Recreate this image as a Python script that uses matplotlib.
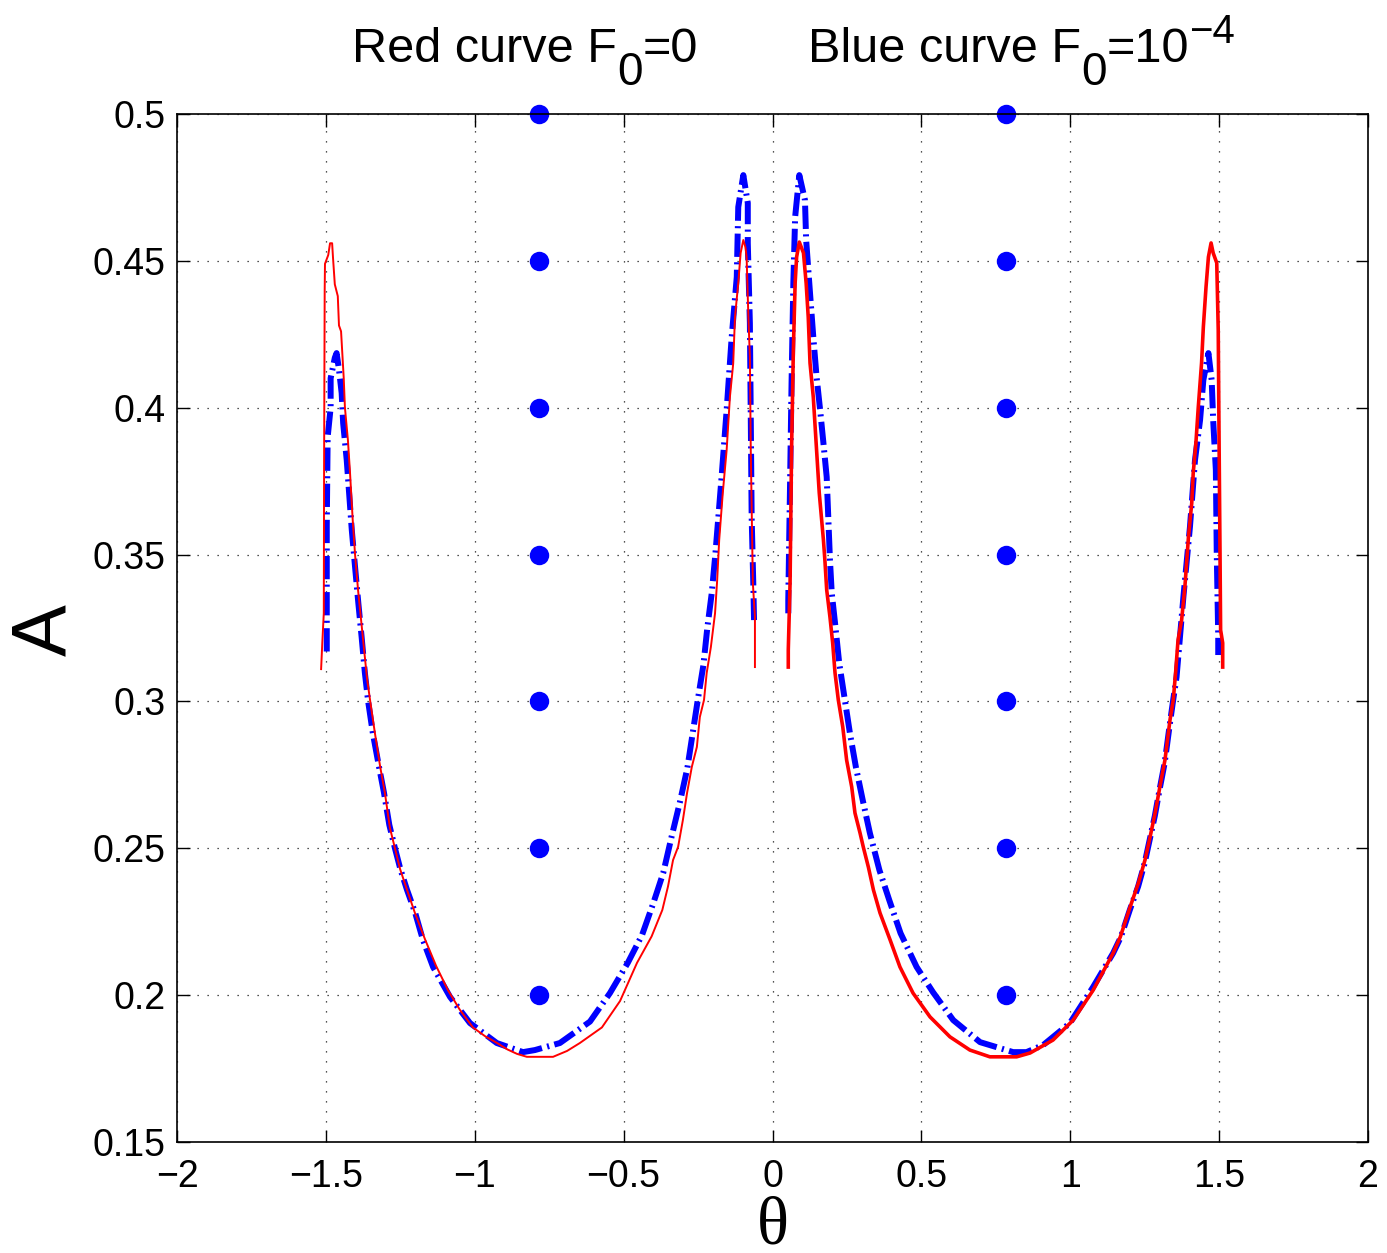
import matplotlib
matplotlib.use('Agg')
import matplotlib.pyplot as plt

# contour of A(theta), left half (theta < 0) and right half (theta > 0)
red_left_theta = [
    -1.516, -1.512, -1.507, -1.506, -1.504, -1.503, -1.492, -1.486, -1.479, -1.476,
    -1.470, -1.460, -1.456, -1.449, -1.440, -1.436, -1.426, -1.419, -1.410, -1.402,
    -1.392, -1.382, -1.372, -1.362, -1.351, -1.335, -1.318, -1.302, -1.285, -1.268,
    -1.251, -1.228, -1.201, -1.167, -1.130, -1.090, -1.050, -1.006, -0.965, -0.925,
    -0.890, -0.858, -0.825, -0.780, -0.737, -0.690, -0.647, -0.573, -0.512, -0.455,
    -0.406, -0.370, -0.351, -0.334, -0.317, -0.301, -0.287, -0.271, -0.254, -0.244,
    -0.230, -0.221, -0.207, -0.193, -0.186, -0.179, -0.167, -0.154, -0.143, -0.132,
    -0.126, -0.115, -0.107, -0.098, -0.091, -0.087, -0.081, -0.076, -0.073, -0.066,
    -0.059, -0.059]
red_left_A = [
    0.311, 0.320, 0.330, 0.380, 0.440, 0.449, 0.452, 0.456, 0.456, 0.451,
    0.442, 0.438, 0.428, 0.426, 0.410, 0.400, 0.389, 0.378, 0.362, 0.350,
    0.338, 0.328, 0.318, 0.308, 0.300, 0.289, 0.278, 0.269, 0.257, 0.250,
    0.243, 0.236, 0.228, 0.219, 0.210, 0.2017, 0.195, 0.189, 0.186, 0.1837,
    0.1815, 0.180, 0.179, 0.179, 0.179, 0.181, 0.1837, 0.189, 0.198, 0.211,
    0.220, 0.229, 0.237, 0.246, 0.2505, 0.2596, 0.2688, 0.2777, 0.2845, 0.2947,
    0.3005, 0.3097, 0.3185, 0.330, 0.341, 0.355, 0.371, 0.3856, 0.4037, 0.415,
    0.4309, 0.4424, 0.4527, 0.4571, 0.4547, 0.4513, 0.4309, 0.4173, 0.3856, 0.3403,
    0.3287, 0.3117]

red_right_theta = [
    0.053, 0.053, 0.059, 0.064, 0.070, 0.076, 0.081, 0.090, 0.104, 0.113,
    0.120, 0.126, 0.137, 0.148, 0.157, 0.171, 0.176, 0.182, 0.193, 0.202,
    0.210, 0.221, 0.236, 0.249, 0.266, 0.277, 0.294, 0.305, 0.322, 0.339,
    0.361, 0.395, 0.428, 0.472, 0.529, 0.596, 0.663, 0.730, 0.820, 0.865,
    0.942, 1.010, 1.077, 1.144, 1.168, 1.201, 1.229, 1.251, 1.268, 1.285,
    1.301, 1.318, 1.335, 1.346, 1.354, 1.362, 1.374, 1.385, 1.397, 1.408,
    1.413, 1.422, 1.430, 1.441, 1.447, 1.456, 1.464, 1.473, 1.480, 1.492,
    1.497, 1.500, 1.503, 1.505, 1.512, 1.512]
red_right_A = [
    0.3117, 0.3175, 0.3403, 0.3856, 0.4196, 0.4424, 0.4513, 0.4564, 0.4527, 0.4424,
    0.4309, 0.4152, 0.4036, 0.3856, 0.371, 0.355, 0.348, 0.338, 0.3287, 0.320,
    0.3097, 0.3005, 0.2913, 0.280, 0.2709, 0.262, 0.2552, 0.2504, 0.2436, 0.2358,
    0.228, 0.2188, 0.2096, 0.2007, 0.1926, 0.1858, 0.1813, 0.179, 0.179, 0.1803,
    0.1847, 0.1915, 0.2017, 0.2143, 0.2198, 0.230, 0.2382, 0.246, 0.2538, 0.262,
    0.2709, 0.280, 0.2937, 0.3005, 0.310, 0.3209, 0.3277, 0.339, 0.356, 0.3675,
    0.3778, 0.388, 0.4002, 0.4152, 0.4275, 0.4411, 0.4513, 0.4561, 0.4527, 0.4493,
    0.4265, 0.3866, 0.3505, 0.3243, 0.3199, 0.3117]

blue_left_theta = [
    -1.497, -1.497, -1.494, -1.484, -1.484, -1.470, -1.464, -1.456, -1.447, -1.442,
    -1.430, -1.422, -1.413, -1.402, -1.391, -1.380, -1.369, -1.358, -1.342, -1.322,
    -1.305, -1.287, -1.268, -1.250, -1.228, -1.200, -1.174, -1.140, -1.083, -1.016,
    -0.926, -0.838, -0.798, -0.714, -0.613, -0.546, -0.486, -0.438, -0.400, -0.367,
    -0.339, -0.311, -0.286, -0.268, -0.251, -0.232, -0.219, -0.204, -0.192, -0.171,
    -0.154, -0.137, -0.120, -0.115, -0.098, -0.083, -0.083, -0.076, -0.073, -0.070,
    -0.064, -0.062]
blue_left_A = [
    0.317, 0.360, 0.390, 0.400, 0.410, 0.417, 0.4186, 0.413, 0.405, 0.3948,
    0.3822, 0.371, 0.3584, 0.3458, 0.3335, 0.322, 0.3097, 0.300, 0.289, 0.278,
    0.269, 0.258, 0.250, 0.243, 0.236, 0.228, 0.2188, 0.2096, 0.1994, 0.1905,
    0.1837, 0.1806, 0.1813, 0.1837, 0.191, 0.2007, 0.211, 0.2205, 0.2314, 0.2416,
    0.2539, 0.2657, 0.2773, 0.2892, 0.3005, 0.3124, 0.325, 0.3369, 0.350, 0.3764,
    0.3992, 0.4241, 0.4445, 0.4683, 0.4792, 0.4697, 0.4561, 0.4288, 0.3968, 0.3628,
    0.3379, 0.3277]

blue_right_theta = [
    0.053, 0.053, 0.059, 0.064, 0.070, 0.076, 0.090, 0.109, 0.113, 0.126,
    0.137, 0.148, 0.160, 0.171, 0.182, 0.193, 0.199, 0.210, 0.224, 0.243,
    0.260, 0.280, 0.303, 0.327, 0.359, 0.392, 0.430, 0.484, 0.539, 0.607,
    0.697, 0.808, 0.853, 0.909, 0.999, 1.077, 1.144, 1.170, 1.200, 1.228,
    1.250, 1.267, 1.284, 1.300, 1.317, 1.334, 1.345, 1.357, 1.380, 1.402,
    1.419, 1.436, 1.447, 1.464, 1.475, 1.480, 1.489, 1.492, 1.497, 1.497]
blue_right_A = [
    0.330, 0.3345, 0.3744, 0.4084, 0.4424, 0.4649, 0.4792, 0.4707, 0.4571, 0.439,
    0.4241, 0.4105, 0.3992, 0.388, 0.3764, 0.3481, 0.3369, 0.3267, 0.3131, 0.3005,
    0.2892, 0.2777, 0.2664, 0.2552, 0.2426, 0.2324, 0.2211, 0.2096, 0.201, 0.1915,
    0.184, 0.1806, 0.1806, 0.183, 0.1905, 0.2028, 0.2143, 0.2198, 0.229, 0.237,
    0.245, 0.253, 0.261, 0.270, 0.279, 0.292, 0.300, 0.3083, 0.3356, 0.3594,
    0.3822, 0.3958, 0.4094, 0.4186, 0.4094, 0.3958, 0.3788, 0.3505, 0.322, 0.3158]

# fixed points (theta = -pi/4, pi/4)
dot_theta = [-0.785, 0.785]
dot_A = [0.20, 0.25, 0.30, 0.35, 0.40, 0.45, 0.50]

xticks = [-2, -1.5, -1, -0.5, 0, 0.5, 1, 1.5, 2]
xtick_labels = ['\u22122', '\u22121.5', '\u22121', '\u22120.5', '0', '0.5', '1', '1.5', '2']
yticks = [0.15, 0.2, 0.25, 0.3, 0.35, 0.4, 0.45, 0.5]
ytick_labels = ['0.15', '0.2', '0.25', '0.3', '0.35', '0.4', '0.45', '0.5']

W, H = 1387, 1253
plt.rcParams['font.family'] = ['Liberation Sans', 'DejaVu Sans']

fig = plt.figure(figsize=(W / 100, H / 100), dpi=100)
ax = fig.add_axes([177 / W, 1 - 1142 / H, (1368 - 177) / W, (1142 - 114) / H])

blue_style = dict(color=(0, 0, 1), linewidth=4.3, linestyle=(0, (3.9, 0.9, 0.35, 0.9)),
                  dash_capstyle='butt')
ax.plot(blue_left_theta, blue_left_A, **blue_style)
ax.plot(blue_right_theta, blue_right_A, **blue_style)
ax.plot(red_left_theta, red_left_A, color=(1, 0, 0), linewidth=1.4)
ax.plot(red_right_theta, red_right_A, color=(1, 0, 0), linewidth=2.6)

for t in dot_theta:
    ax.plot([t] * len(dot_A), dot_A, 'o', color=(0, 0, 1), markersize=14,
            markeredgewidth=0, clip_on=False)

ax.set_xlim(-2, 2)
ax.set_ylim(0.15, 0.5)
ax.set_xticks(xticks)
ax.set_xticklabels(xtick_labels)
ax.set_yticks(yticks)
ax.set_yticklabels(ytick_labels)
ax.tick_params(direction='in', length=9, width=1, labelsize=27, top=True, right=True)
ax.tick_params(axis='x', pad=12)
ax.tick_params(axis='y', pad=8)
ax.grid(True, color='0.1', linewidth=0.9, linestyle=(0, (1, 7)))
for sp in ax.spines.values():
    sp.set_linewidth(1.2)

ax.set_xlabel('\u03b8', family='Liberation Serif', fontsize=48, va='center')
ax.xaxis.set_label_coords(0.5, -0.083)
ax.set_ylabel('A', fontsize=56, va='center')
ax.yaxis.set_label_coords(-0.110, 0.498)


def rich_text(x_px, base_px, parts):
    # lay out pieces one after another, each with its own baseline shift (px)
    renderer = fig.canvas.get_renderer()
    x = x_px
    for s, dy, sz in parts:
        t = fig.text(x / W, 1 - (base_px + dy) / H, s, fontsize=sz,
                     ha='left', va='baseline')
        bb = t.get_window_extent(renderer)
        x = bb.x1


rich_text(352, 62, [('Red curve F', 0, 35), ('0', 23, 33), ('=0', 0, 35)])
rich_text(808, 62, [('Blue curve F', 0, 35), ('0', 23, 33), ('=10', 0, 35),
                    ('\u22124', -19, 29)])

fig.savefig('out.png', dpi=100)
